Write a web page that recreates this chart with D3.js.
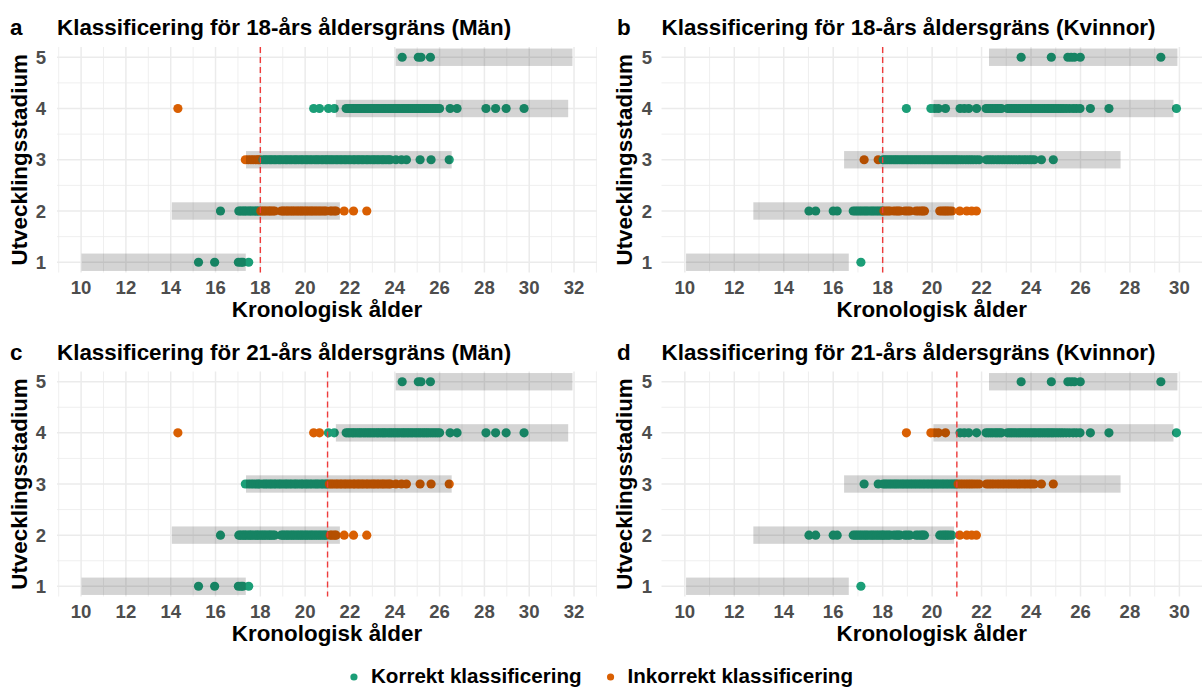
<!DOCTYPE html>
<html>
<head>
<meta charset="utf-8">
<script src="https://cdn.jsdelivr.net/npm/d3@7"></script>
<style>
  body { margin: 0; background: #fff; }
  text { font-family: 'Liberation Sans', Arial, sans-serif; font-weight: bold; }
</style>
</head>
<body>
<svg id="chart" width="1203" height="688"></svg>
<script>
// ages per development stage, men
const menStage1 = [15.24, 15.96, 17.02, 17.14, 17.22, 17.48]
const menStage2 = [16.22, 17.04, 17.11, 17.19, 17.27, 17.33, 17.41, 17.5, 17.56, 17.63, 17.72, 17.8, 17.86, 17.93,
  18.02, 18.09, 18.17, 18.24, 18.33, 18.41, 18.47, 18.56, 18.64, 18.93, 19.01, 19.08, 19.17, 19.23, 19.32, 19.4,
  19.47, 19.55, 19.64, 19.71, 19.8, 19.86, 19.95, 20.03, 20.1, 20.19, 20.27, 20.34, 20.43, 20.51, 20.6, 20.68,
  20.77, 20.86, 20.94, 21.12, 21.2, 21.31, 21.38, 21.74, 22.16, 22.75]
const menStage3 = [17.33, 17.46, 17.58, 17.69, 17.8, 17.9, 17.97, 18.12, 18.22, 18.31, 18.42, 18.5, 18.61, 18.7,
  18.82, 18.9, 19.01, 19.12, 19.2, 19.31, 19.4, 19.52, 19.6, 19.71, 19.82, 19.9, 20.02, 20.1, 20.21, 20.3, 20.42,
  20.51, 20.6, 20.72, 20.8, 20.91, 20.98, 21.08, 21.17, 21.26, 21.37, 21.45, 21.56, 21.64, 21.75, 21.83, 21.94,
  22.03, 22.15, 22.22, 22.34, 22.41, 22.52, 22.6, 22.72, 22.8, 22.91, 23.02, 23.1, 23.21, 23.3, 23.42, 23.5,
  23.61, 23.72, 23.8, 24.05, 24.3, 24.52, 25.13, 25.62, 26.43]
const menStage4 = [14.32, 20.38, 20.64, 21.04, 21.3, 21.83, 21.92, 22.0, 22.1, 22.17, 22.26, 22.35, 22.43, 22.5,
  22.6, 22.68, 22.77, 22.85, 22.93, 23.02, 23.1, 23.2, 23.27, 23.36, 23.45, 23.52, 23.6, 23.7, 23.78, 23.86,
  23.95, 24.03, 24.12, 24.2, 24.3, 24.38, 24.46, 24.55, 24.63, 24.72, 24.8, 24.9, 24.98, 25.07, 25.15, 25.25,
  25.33, 25.42, 25.5, 25.6, 25.7, 25.8, 25.9, 26.0, 26.47, 26.78, 28.07, 28.5, 28.97, 29.77]
const menStage5 = [24.33, 25.05, 25.17, 25.59]

// ages per development stage, women
const womenStage1 = [17.12]
const womenStage2 = [15.02, 15.29, 16.0, 16.16, 16.81, 16.9, 16.98, 17.07, 17.15, 17.24, 17.32, 17.4, 17.5, 17.58,
  17.66, 17.75, 17.83, 17.92, 17.99, 18.05, 18.14, 18.22, 18.3, 18.45, 18.55, 18.62, 18.7, 18.9, 19.0, 19.1,
  19.35, 19.45, 19.55, 19.62, 19.69, 20.31, 20.4, 20.48, 20.55, 20.62, 20.7, 20.8, 21.12, 21.4, 21.6, 21.79]
const womenStage3 = [17.25, 17.82, 18.02, 18.1, 18.18, 18.27, 18.35, 18.44, 18.52, 18.6, 18.69, 18.78, 18.86,
  18.95, 19.03, 19.12, 19.2, 19.29, 19.37, 19.46, 19.54, 19.63, 19.71, 19.8, 19.88, 19.97, 20.05, 20.14, 20.22,
  20.31, 20.4, 20.48, 20.57, 20.65, 20.74, 20.82, 20.9, 20.97, 21.05, 21.15, 21.25, 21.36, 21.46, 21.56, 21.66,
  21.78, 21.9, 22.2, 22.3, 22.4, 22.5, 22.62, 22.72, 22.83, 22.93, 23.05, 23.15, 23.26, 23.37, 23.48, 23.58,
  23.7, 23.8, 23.92, 24.02, 24.13, 24.42, 24.9]
const womenStage4 = [18.96, 19.95, 20.1, 20.25, 20.54, 21.13, 21.3, 21.48, 21.8, 22.18, 22.27, 22.36, 22.45, 22.55,
  22.63, 22.72, 22.8, 23.05, 23.14, 23.22, 23.31, 23.4, 23.5, 23.58, 23.67, 23.76, 23.85, 23.94, 24.03, 24.12,
  24.2, 24.3, 24.38, 24.47, 24.56, 24.65, 24.73, 24.82, 24.9, 25.0, 25.1, 25.2, 25.3, 25.42, 25.55, 25.7, 25.83,
  25.98, 26.4, 27.15, 29.88]
const womenStage5 = [23.6, 24.82, 25.49, 25.62, 25.75, 25.99, 29.25]

// reference age range per stage [from, to]
const menBands = [[10.02, 17.35], [14.05, 21.55], [17.36, 26.54], [21.37, 31.74], [24.04, 31.93]]
const womenBands = [[10.05, 16.63], [12.77, 20.89], [16.44, 27.62], [20.05, 29.76], [22.3, 29.92]]

const stages = [1, 2, 3, 4, 5]
const legendLabels = ['Korrekt klassificering', 'Inkorrekt klassificering']

const panels = [
  { tag: 'a', sex: 'men', cutoff: 18, adultStage: 3, title: 'Klassificering för 18-års åldersgräns (Män)' },
  { tag: 'b', sex: 'women', cutoff: 18, adultStage: 3, title: 'Klassificering för 18-års åldersgräns (Kvinnor)' },
  { tag: 'c', sex: 'men', cutoff: 21, adultStage: 4, title: 'Klassificering för 21-års åldersgräns (Män)' },
  { tag: 'd', sex: 'women', cutoff: 21, adultStage: 4, title: 'Klassificering för 21-års åldersgräns (Kvinnor)' },
]

const colors = { correct: '#1b9e77', wrong: '#d95f02' }

// layout
const cols = [
  { left: 57, right: 597, tagX: 10, yTitleX: 27, yTickX: 46 },
  { left: 661.5, right: 1202, tagX: 617, yTitleX: 632, yTickX: 652 },
]
const rows = [
  { top: 47, bottom: 272.5, titleY: 35 },
  { top: 371.5, bottom: 596.5, titleY: 360 },
]

const svg = d3.select('#chart')
svg.append('rect').attr('width', 1203).attr('height', 688).attr('fill', '#fff')

panels.forEach((p, i) => {
  const col = cols[i % 2]
  const row = rows[Math.floor(i / 2)]
  const stageAges = p.sex === 'men'
    ? [menStage1, menStage2, menStage3, menStage4, menStage5]
    : [womenStage1, womenStage2, womenStage3, womenStage4, womenStage5]
  const bands = p.sex === 'men' ? menBands : womenBands

  const points = stageAges.flatMap((ages, si) => ages.map((a) => {
    const stage = stages[si]
    const correct = (a >= p.cutoff) === (stage >= p.adultStage)
    return { stage, age: a, correct }
  }))

  // x domain: data extent + 5% like ggplot
  const ext = d3.extent(points.map((d) => d.age).concat(bands.flat()))
  const pad = (ext[1] - ext[0]) * 0.05
  const x = d3.scaleLinear().domain([ext[0] - pad, ext[1] + pad]).range([col.left, col.right])
  const y = d3.scaleLinear().domain([0.8, 5.2]).range([row.bottom, row.top])

  const g = svg.append('g').attr('id', 'panel-' + p.tag)

  const [x0, x1] = x.domain()
  const majorX = d3.range(Math.ceil(x0 / 2) * 2, x1, 2)
  const minorX = d3.range(Math.ceil(x0), x1, 1).filter((v) => v % 2 !== 0)
  const minorY = [1.5, 2.5, 3.5, 4.5]

  // grid
  const grid = g.append('g').attr('stroke', '#ebebeb')
  grid.selectAll('.mx').data(minorX).join('line')
    .attr('x1', (d) => x(d)).attr('x2', (d) => x(d))
    .attr('y1', row.top).attr('y2', row.bottom).attr('stroke-width', 0.8)
  grid.selectAll('.my').data(minorY).join('line')
    .attr('y1', (d) => y(d)).attr('y2', (d) => y(d))
    .attr('x1', col.left).attr('x2', col.right).attr('stroke-width', 0.8)
  grid.selectAll('.gx').data(majorX).join('line')
    .attr('x1', (d) => x(d)).attr('x2', (d) => x(d))
    .attr('y1', row.top).attr('y2', row.bottom).attr('stroke-width', 1.5)
  grid.selectAll('.gy').data(stages).join('line')
    .attr('y1', (d) => y(d)).attr('y2', (d) => y(d))
    .attr('x1', col.left).attr('x2', col.right).attr('stroke-width', 1.5)

  // points
  g.append('g').selectAll('circle').data(points).join('circle')
    .attr('cx', (d) => x(d.age))
    .attr('cy', (d) => y(d.stage))
    .attr('r', 4.6)
    .attr('fill', (d) => (d.correct ? colors.correct : colors.wrong))

  // reference bands on top
  g.append('g').selectAll('rect').data(bands).join('rect')
    .attr('x', (d) => x(d[0]))
    .attr('width', (d) => x(d[1]) - x(d[0]))
    .attr('y', (d, si) => y(stages[si] + 0.17))
    .attr('height', (d, si) => y(stages[si] - 0.17) - y(stages[si] + 0.17))
    .attr('fill', '#000')
    .attr('fill-opacity', 0.17)

  // age cutoff
  g.append('line')
    .attr('x1', x(p.cutoff)).attr('x2', x(p.cutoff))
    .attr('y1', row.top).attr('y2', row.bottom)
    .attr('stroke', '#ef3b3b')
    .attr('stroke-width', 1.4)
    .attr('stroke-dasharray', '6,4')

  // tick labels
  g.append('g').attr('font-size', 18.6).attr('fill', '#4d4d4d')
    .selectAll('text').data(majorX).join('text')
    .attr('x', (d) => x(d))
    .attr('y', row.bottom + 21.5)
    .attr('text-anchor', 'middle')
    .text((d) => d)
  g.append('g').attr('font-size', 18.6).attr('fill', '#4d4d4d')
    .selectAll('text').data(stages).join('text')
    .attr('x', col.yTickX)
    .attr('y', (d) => y(d))
    .attr('dy', '0.35em')
    .attr('text-anchor', 'end')
    .text((d) => d)

  // axis titles
  g.append('text')
    .attr('x', (col.left + col.right) / 2)
    .attr('y', row.bottom + 44.5)
    .attr('text-anchor', 'middle')
    .attr('font-size', 22.4)
    .text('Kronologisk ålder')
  g.append('text')
    .attr('transform', `translate(${col.yTitleX},${(row.top + row.bottom) / 2}) rotate(-90)`)
    .attr('text-anchor', 'middle')
    .attr('font-size', 22.4)
    .text('Utvecklingsstadium')

  // title and tag
  g.append('text')
    .attr('x', col.left).attr('y', row.titleY)
    .attr('font-size', 22.4)
    .text(p.title)
  g.append('text')
    .attr('x', col.tagX).attr('y', row.titleY)
    .attr('font-size', 22.4)
    .text(p.tag)
})

// legend at the bottom
const legend = svg.append('g').attr('id', 'legend')
const items = legend.selectAll('g').data(legendLabels).join('g')
items.append('circle').attr('r', 3.6).attr('cy', 677)
  .attr('fill', (d, i) => (i === 0 ? colors.correct : colors.wrong))
items.append('text').attr('y', 683).attr('font-size', 20.6).text((d) => d)

let cursor = 0
const pos = []
items.each(function () {
  const w = d3.select(this).select('text').node().getComputedTextLength()
  pos.push(cursor)
  cursor += 21 + w + 25
})
const total = cursor - 25
const start = 601.5 - total / 2
items.each(function (d, i) {
  const it = d3.select(this)
  it.select('circle').attr('cx', start + pos[i] + 4)
  it.select('text').attr('x', start + pos[i] + 21)
})
</script>
</body>
</html>
